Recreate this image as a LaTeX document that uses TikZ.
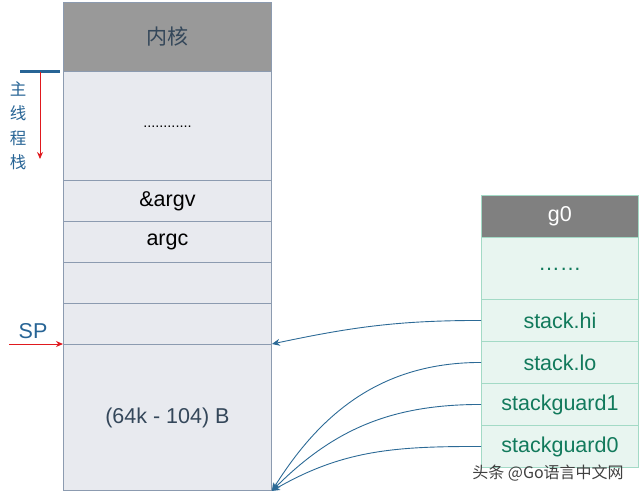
\documentclass[tikz,border=0pt]{standalone}
\usepackage{fontspec}
\setmainfont{Liberation Sans}
\newfontfamily\cjk{Noto Sans CJK SC}
\usetikzlibrary{arrows.meta}
\definecolor{lfill}{HTML}{E8EAEF}
\definecolor{ldraw}{HTML}{8C9BB0}
\definecolor{kgray}{HTML}{999999}
\definecolor{ktext}{HTML}{34475A}
\definecolor{rfill}{HTML}{E8F5F0}
\definecolor{rdraw}{HTML}{A3DAC6}
\definecolor{gtext}{HTML}{127A5C}
\definecolor{ghead}{HTML}{808080}
\definecolor{bluel}{HTML}{2C6A96}
\definecolor{blueb}{HTML}{276495}
\definecolor{redl}{HTML}{E0191E}
\tikzset{
  lcell/.style={draw=ldraw, fill=lfill, line width=0.9pt, minimum width=208pt, inner sep=0pt, anchor=north west, font=\fontsize{21.5}{24}\selectfont},
  rcell/.style={draw=rdraw, fill=rfill, line width=0.9pt, minimum width=157pt, inner sep=0pt, anchor=north west, text=gtext, font=\fontsize{21.5}{24}\selectfont},
  link/.style={draw=bluel, line width=0.9pt, -{Stealth[length=8pt,width=7pt]}},
}
\begin{document}
\begin{tikzpicture}[x=1pt,y=-1pt]
\useasboundingbox (0,0) rectangle (640,496);
% left column
\node[lcell, fill=kgray, minimum height=69pt, text=ktext] (kern) at (63,2) {\cjk\fontsize{21}{24}\selectfont 内核};
\node[lcell, minimum height=109pt] (dots) at (63,71) {\raisebox{-4pt}{\fontsize{14.5}{16}\selectfont ............}};
\node[lcell, minimum height=41pt] (argv) at (63,180) {\&argv};
\node[lcell, minimum height=41pt] (argc) at (63,221) {argc};
\node[lcell, minimum height=41pt] (e1) at (63,262) {};
\node[lcell, minimum height=41pt] (e2) at (63,303) {};
\node[lcell, minimum height=146pt, text=ktext] (big) at (63,344) {(64k - 104) B};
% right column
\node[rcell, fill=ghead, draw=rdraw, minimum height=42pt, text=white] (g0) at (481,195) {g0};
\node[rcell, minimum height=62pt] (rdots) at (481,237) {\raisebox{-5pt}{……}};
\node[rcell, minimum height=42pt] (hi) at (481,299) {stack.hi};
\node[rcell, minimum height=42pt] (lo) at (481,341) {stack.lo};
\node[rcell, minimum height=42pt] (sg1) at (481,383) {stackguard1};
\node[rcell, minimum height=42pt] (sg0) at (481,425) {stackguard0};
% links
\draw[link] (hi.west) to[out=180,in=12] (big.north east);
\draw[link] (lo.west) to[out=180,in=58] (big.south east);
\draw[link] (sg1.west) to[out=180,in=45] (big.south east);
\draw[link] (sg0.west) to[out=180,in=30] (big.south east);
% main thread stack marker
\coordinate (barL) at (20,71);
\coordinate (barR) at (60,71);
\coordinate (rtop) at (40,72);
\coordinate (rbot) at (40,159);
\draw[blueb, line width=3pt] (barL) -- (barR);
\draw[redl, line width=1pt, -{Stealth[length=7pt,width=6pt]}] (rtop) -- (rbot);
\node[text=blueb, font=\cjk\fontsize{16.5}{24.5}\selectfont, align=center, inner sep=0pt] (mts) at (18,126) {主\\线\\程\\栈};
% SP
\coordinate (spL) at (9,344);
\node[text=blueb, font=\fontsize{21.5}{24}\selectfont, inner sep=0pt] (sp) at (33,331) {SP};
\draw[redl, line width=1pt, -{Stealth[length=7pt,width=6pt]}] (spL) -- (big.north west);
% watermark
\node[text=black!75, font=\cjk\fontsize{16}{18}\selectfont, inner sep=0pt] (wm) at (548,473) {头条 @Go语言中文网};
\end{tikzpicture}
\end{document}
